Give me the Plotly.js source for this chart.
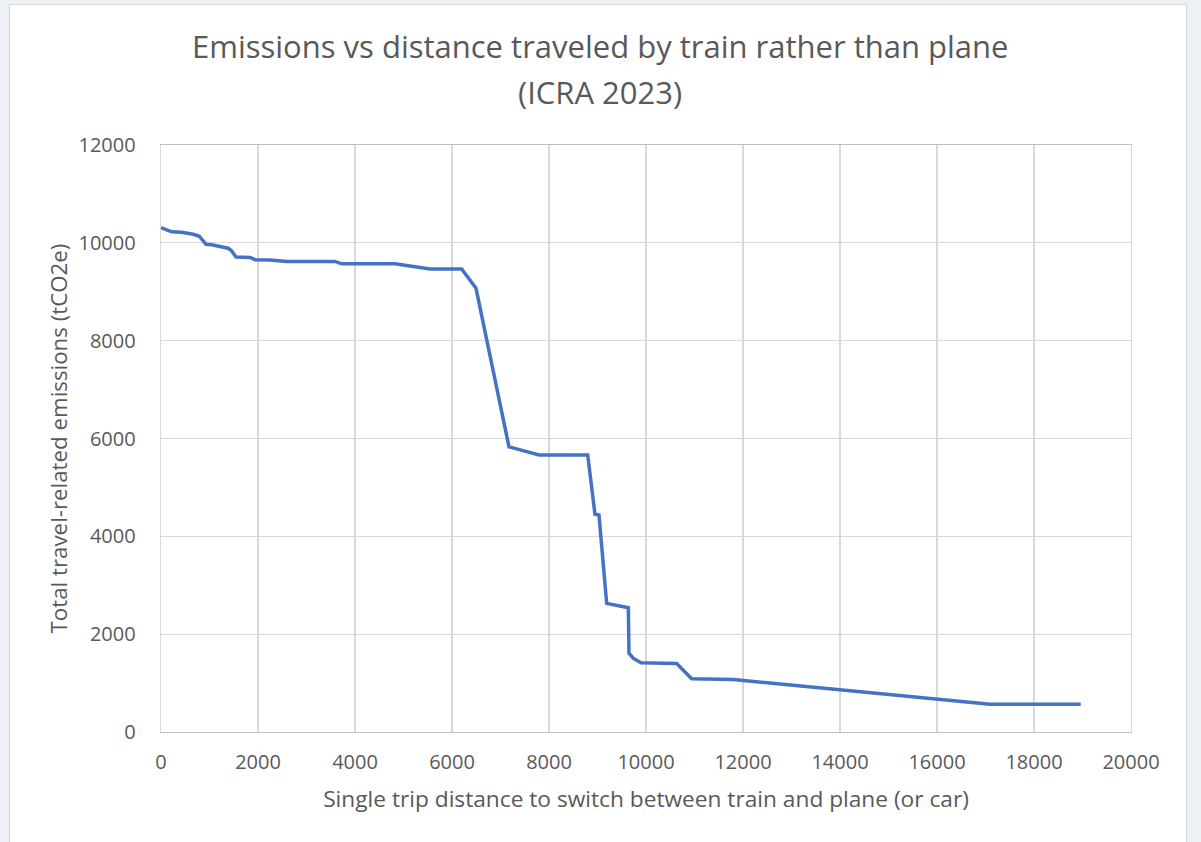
<!DOCTYPE html>
<html>
<head>
<meta charset="utf-8">
<script src="https://cdn.plot.ly/plotly-3.0.1.min.js"></script>
<style>
  html, body { margin:0; padding:0; width:1201px; height:842px; overflow:hidden; background:#edf0f5; }
  #card { position:absolute; left:9px; top:4px; width:1178px; height:850px; background:#ffffff; border:1px solid #d4d7dc; box-sizing:border-box; }
  #chart { position:absolute; left:0; top:0; width:1201px; height:842px; }
</style>
</head>
<body>
<div id="card"></div>
<div id="chart"></div>
<script>
const distance = [0,220,425,665,790,860,928,1045,1250,1385,1455,1546,1835,1938,2247,2590,3588,3725,4825,5203,5546,6200,6370,6495,7175,7794,8798,8948,9031,9189,9636,9649,9739,9897,10632,10942,11800,14000,15993,17093,18963];
const emissions = [10310,10225,10215,10175,10135,10055,9970,9960,9920,9890,9840,9710,9700,9655,9650,9620,9620,9570,9570,9520,9465,9465,9240,9070,5830,5665,5665,4450,4435,2630,2540,1610,1505,1415,1400,1090,1075,860,660,565,565];
const xTicks = [0,2000,4000,6000,8000,10000,12000,14000,16000,18000,20000];
const yTicks = [0,2000,4000,6000,8000,10000,12000];
const titleLines = ["Emissions vs distance traveled by train rather than plane", "(ICRA 2023)"];
const xTitle = "Single trip distance to switch between train and plane (or car)";
const yTitle = "Total travel-related emissions (tCO2e)";

const font = "Open Sans, Liberation Sans, sans-serif";
const grey = "#595959";

Plotly.newPlot("chart", [{
  x: distance, y: emissions, type: "scatter", mode: "lines",
  line: {color: "#4472C4", width: 3.5}, hoverinfo: "skip"
}], {
  width: 1201, height: 842,
  paper_bgcolor: "rgba(0,0,0,0)", plot_bgcolor: "#ffffff",
  margin: {l: 161, r: 70, t: 145, b: 110},
  showlegend: false,
  annotations: [
    {text: titleLines[0], xref: "paper", yref: "paper", x: 0.4526, y: 1.1695, xanchor: "center", yanchor: "middle", showarrow: false, font: {family: font, size: 31, color: grey}},
    {text: titleLines[1], xref: "paper", yref: "paper", x: 0.4526, y: 1.0905, xanchor: "center", yanchor: "middle", showarrow: false, font: {family: font, size: 31, color: grey}}
  ],
  xaxis: {
    range: [0, 20000], tickvals: xTicks, ticktext: xTicks.map(String),
    showgrid: true, gridcolor: "#d9d9d9", gridwidth: 1.3,
    showline: true, linecolor: "#bfbfbf", linewidth: 1.3, mirror: true,
    zeroline: false, ticks: "", ticklen: 0, ticklabelstandoff: 12,
    tickfont: {family: font, size: 20, color: grey},
    title: {text: xTitle, font: {family: font, size: 22.7, color: grey}, standoff: 16}
  },
  yaxis: {
    range: [0, 12000], tickvals: yTicks, ticktext: yTicks.map(String),
    showgrid: true, gridcolor: "#d9d9d9", gridwidth: 1.3,
    showline: true, linecolor: "#d9d9d9", linewidth: 1.3, mirror: true,
    zeroline: false, ticks: "", ticklen: 0, ticklabelstandoff: 20,
    tickfont: {family: font, size: 20, color: grey},
    title: {text: yTitle, font: {family: font, size: 22.3, color: grey}, standoff: 4}
  }
}, {staticPlot: true, displayModeBar: false});
</script>
</body>
</html>
